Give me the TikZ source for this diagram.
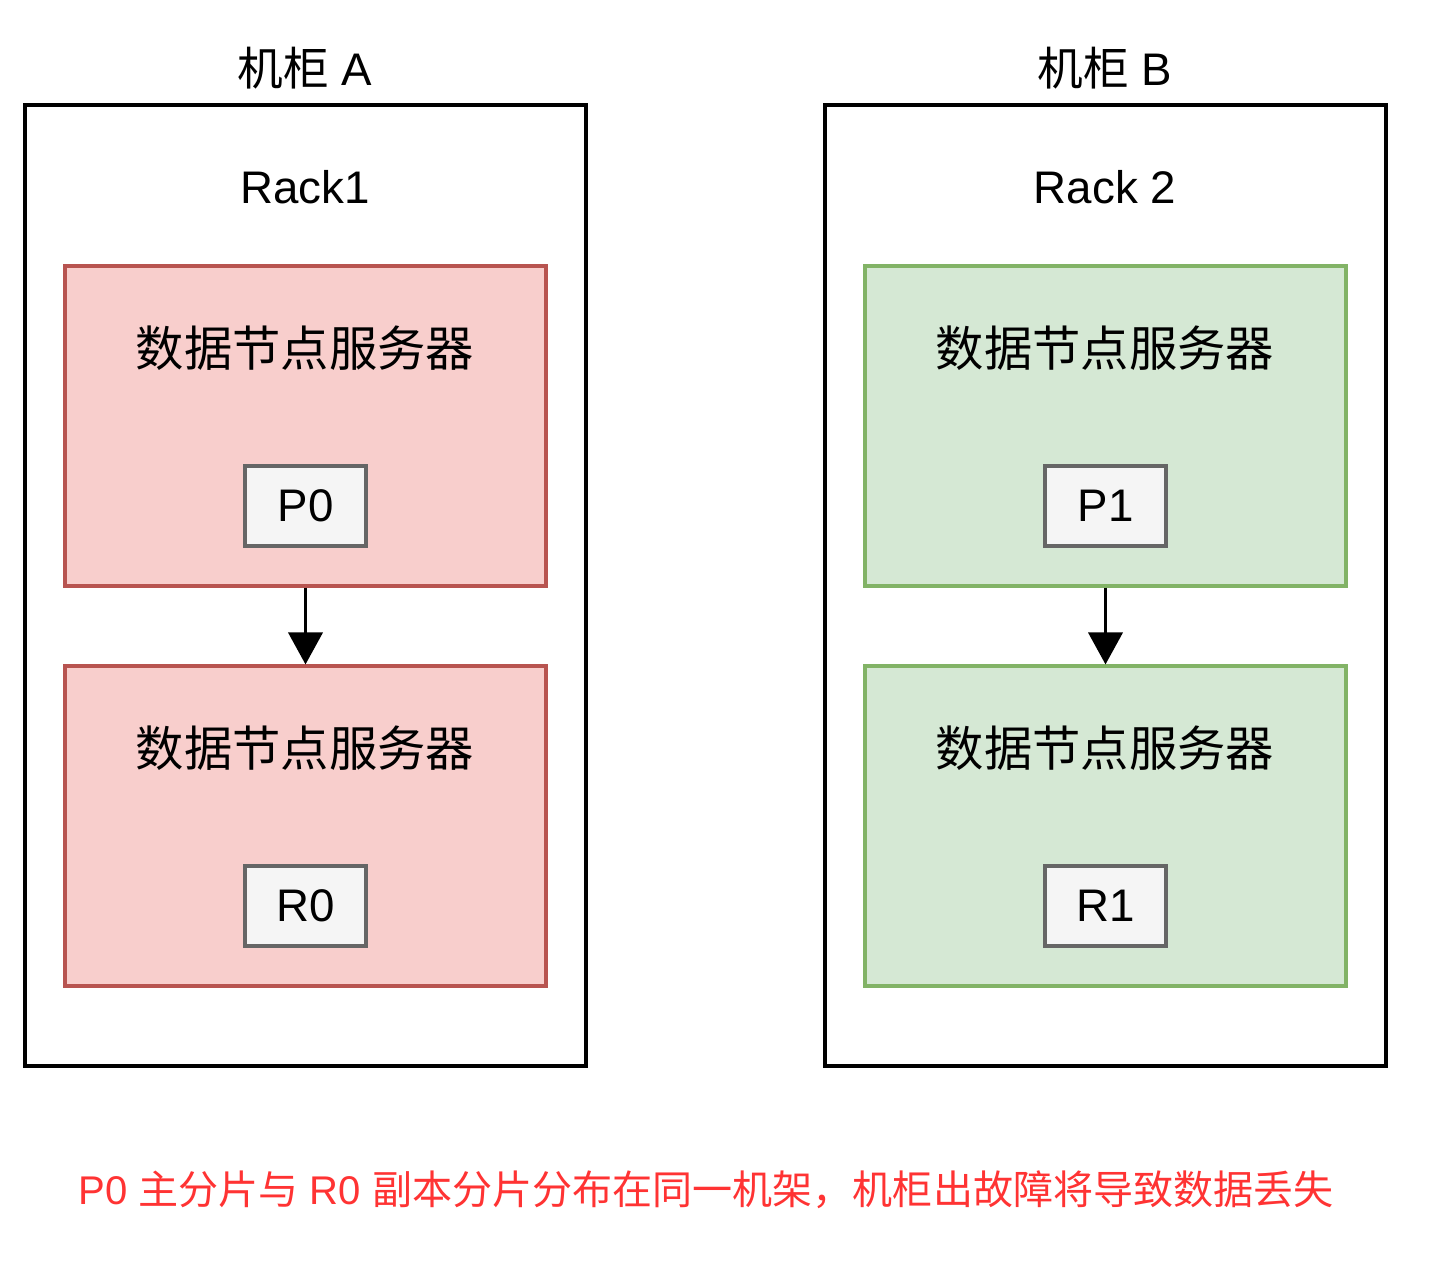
\documentclass[tikz,border=0pt]{standalone}
\usepackage{fontspec}
\setmainfont{Liberation Sans}
\newfontfamily\cjk{Noto Sans CJK SC}
\usetikzlibrary{arrows.meta,positioning}
\definecolor{ServerRed}{HTML}{F8CECC}
\definecolor{ServerRedLine}{HTML}{B85450}
\definecolor{ServerGreen}{HTML}{D5E8D4}
\definecolor{ServerGreenLine}{HTML}{82B366}
\definecolor{ShardGray}{HTML}{F5F5F5}
\definecolor{ShardLine}{HTML}{666666}
\definecolor{NoteRed}{HTML}{FF3333}

\begin{document}
\begin{tikzpicture}[x=0.02cm, y=-0.02cm, >=Stealth,
    every node/.style={font=\fontsize{26}{30}\selectfont, inner sep=0pt},
    srvtext/.style={font=\fontsize{27.5}{32}\selectfont\cjk},
    rackbox/.style={draw=black, line width=2pt, minimum width=11.22cm, minimum height=19.22cm},
    redserver/.style={draw=ServerRedLine, fill=ServerRed, line width=1.8pt, minimum width=9.62cm, minimum height=6.4cm},
    greenserver/.style={draw=ServerGreenLine, fill=ServerGreen, line width=1.8pt, minimum width=9.62cm, minimum height=6.4cm},
    shardbox/.style={draw=ShardLine, fill=ShardGray, line width=1.8pt, minimum width=2.42cm, minimum height=1.6cm},
    copyarrow/.style={-{Triangle[length=0.64cm, width=0.68cm]}, line width=2.2pt}]
\useasboundingbox (0,0) rectangle (1444,1284);
% rack A
\node (titleA) at (305,68) {{\cjk 机柜} A};
\node[rackbox] (rackA) at (305.5,585.5) {};
\node (nameA) at (305,187) {Rack1};
\node[redserver] (srvA1) at (305.5,426) {};
\node[srvtext] (txtA1) at (305,348) {数据节点服务器};
\node[shardbox] (P0) at (305.5,506) {P0};
\node[redserver] (srvA2) at (305.5,826) {};
\node[srvtext] (txtA2) at (305,748) {数据节点服务器};
\node[shardbox] (R0) at (305.5,906) {R0};
\draw[copyarrow] (srvA1) -- (srvA2);
% rack B
\node (titleB) at (1105,68) {{\cjk 机柜} B};
\node[rackbox] (rackB) at (1105.5,585.5) {};
\node (nameB) at (1105,187) {Rack 2};
\node[greenserver] (srvB1) at (1105.5,426) {};
\node[srvtext] (txtB1) at (1105,348) {数据节点服务器};
\node[shardbox] (P1) at (1105.5,506) {P1};
\node[greenserver] (srvB2) at (1105.5,826) {};
\node[srvtext] (txtB2) at (1105,748) {数据节点服务器};
\node[shardbox] (R1) at (1105.5,906) {R1};
\draw[copyarrow] (srvB1) -- (srvB2);
% note
\node[text=NoteRed, font=\fontsize{22.8}{27}\selectfont] (note) at (706,1190)
    {P0 {\cjk 主分片与} R0 {\cjk 副本分片分布在同一机架，机柜出故障将导致数据丢失}};
\end{tikzpicture}
\end{document}
